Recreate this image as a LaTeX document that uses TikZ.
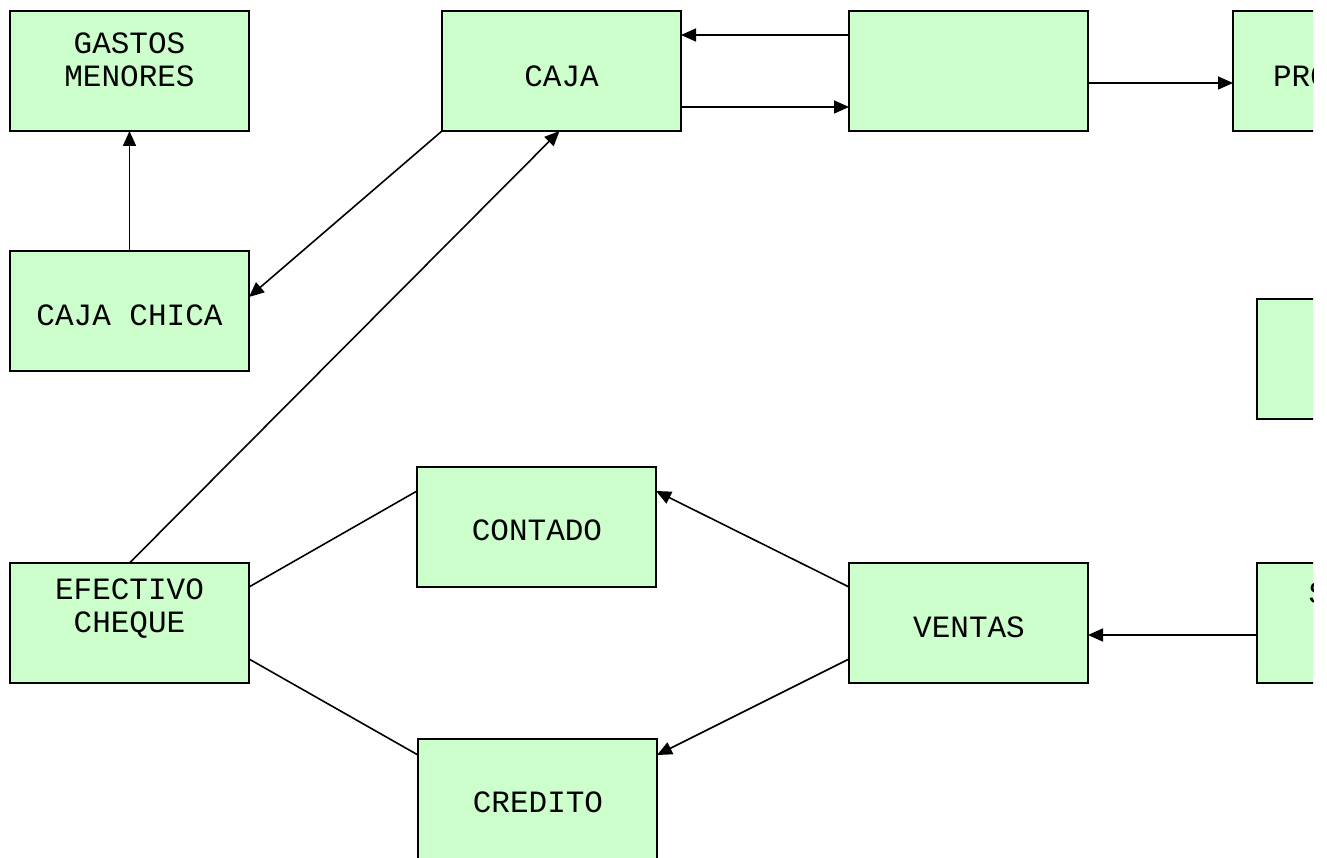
\documentclass[tikz,border=0pt]{standalone}
\usepackage{fontspec}
\setmonofont{Liberation Mono}
\usetikzlibrary{arrows.meta}
\definecolor{boxfill}{HTML}{CCFFCC}
\begin{document}
\begin{tikzpicture}[x=1pt,y=-1pt,
  box/.style={draw=black,fill=boxfill,line width=1.4pt,minimum width=239pt,minimum height=120pt,inner sep=0pt,outer sep=0pt,anchor=north west},
  txt/.style={font=\fontsize{31}{33}\selectfont\ttfamily,inner sep=0pt,align=center},
  conn/.style={line width=1.6pt},
  arr/.style={conn,-{Triangle[length=15pt,width=13pt]}}]
\useasboundingbox (0,0) rectangle (1327,858);
\clip (0,0) rectangle (1313,858);
% boxes
\node[box] (gastos) at (10,11) {};
\node[box] (caja) at (442,11) {};
\node[box] (blank) at (849,11) {};
\node[box] (pro) at (1233,11) {};
\node[box] (chica) at (10,251) {};
\node[box] (rmid) at (1257,299) {};
\node[box] (contado) at (417,467) {};
\node[box] (efectivo) at (10,563) {};
\node[box] (ventas) at (849,563) {};
\node[box] (rbot) at (1257,563) {};
\node[box] (credito) at (418,739) {};
% texts
\node[txt] (tgastos) at (129.5,60) {GASTOS\\MENORES};
\node[txt] (tcaja) at (561.5,76) {CAJA};
\node[txt] (tpro) at (1301,76) {PRO};
\node[txt] (tchica) at (129.5,315) {CAJA CHICA};
\node[txt] (tcontado) at (537,530) {CONTADO};
\node[txt] (tefectivo) at (129.5,609) {EFECTIVO\\CHEQUE};
\node[txt] (tventas) at (969,627) {VENTAS};
\node[txt] (trbot) at (1318,593) {S};
\node[txt] (tcredito) at (538,802) {CREDITO};
% connectors
\draw[arr] (chica.north) -- (gastos.south);
\draw[arr] (caja.south west) -- ([yshift=-46pt]chica.north east);
\draw[arr] (efectivo.north) -- ([xshift=-2pt]caja.south);
\draw[arr] ([yshift=-24pt]blank.north west) -- ([yshift=-24pt]caja.north east);
\draw[arr] ([yshift=-96pt]caja.north east) -- ([yshift=-96pt]blank.north west);
\draw[arr] ([yshift=-12pt]blank.east) -- ([yshift=-12pt]pro.west);
\draw[conn] ([yshift=-24pt]efectivo.north east) -- ([yshift=-24pt]contado.north west);
\draw[conn] ([yshift=24pt]efectivo.south east) -- ([yshift=-16pt]credito.north west);
\draw[arr] ([yshift=-24pt]ventas.north west) -- ([yshift=-24pt]contado.north east);
\draw[arr] ([yshift=24pt]ventas.south west) -- ([yshift=-16pt]credito.north east);
\draw[arr] ([yshift=-72pt]rbot.north west) -- ([yshift=-12pt]ventas.east);
\end{tikzpicture}
\end{document}
